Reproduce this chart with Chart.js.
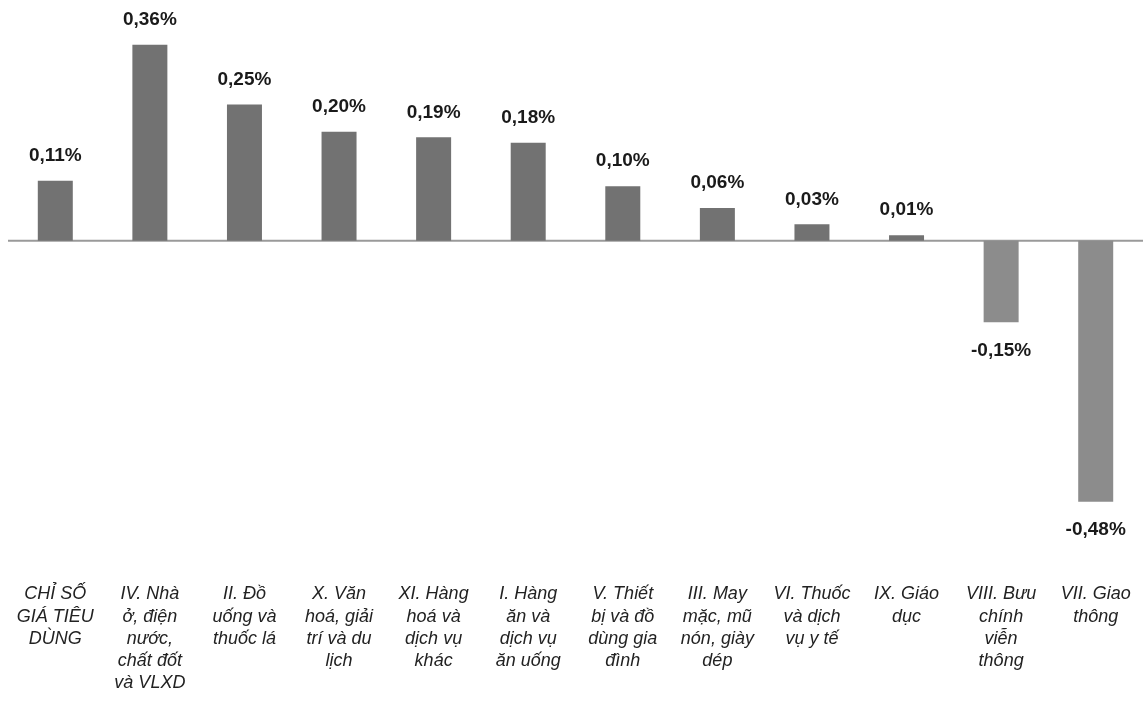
<!DOCTYPE html>
<html>
<head>
<meta charset="utf-8">
<script src="https://cdn.jsdelivr.net/npm/chart.js@4.4.1/dist/chart.umd.min.js"></script>
<style>
  html, body { margin: 0; padding: 0; background: #fff; }
  #wrap { width: 1143px; height: 702px; position: relative; }
</style>
</head>
<body>
<div id="wrap"><canvas id="myChart"></canvas></div>
<script>
// categories (multi-line labels as drawn under the axis)
const categories = [
  ["CHỈ SỐ", "GIÁ TIÊU", "DÙNG"],
  ["IV. Nhà", "ở, điện", "nước,", "chất đốt", "và VLXD"],
  ["II. Đồ", "uống và", "thuốc lá"],
  ["X. Văn", "hoá, giải", "trí và du", "lịch"],
  ["XI. Hàng", "hoá và", "dịch vụ", "khác"],
  ["I. Hàng", "ăn và", "dịch vụ", "ăn uống"],
  ["V. Thiết", "bị và đồ", "dùng gia", "đình"],
  ["III. May", "mặc, mũ", "nón, giày", "dép"],
  ["VI. Thuốc", "và dịch", "vụ y tế"],
  ["IX. Giáo", "dục"],
  ["VIII. Bưu", "chính", "viễn", "thông"],
  ["VII. Giao", "thông"]
]
// change vs previous month, %
const values = [0.11, 0.36, 0.25, 0.20, 0.19, 0.18, 0.10, 0.06, 0.03, 0.01, -0.15, -0.48]

const yMin = -0.615
const yMax = 0.40

function fmt(v){
  return v.toFixed(2).replace('.', ',') + '%'
}

// zero line under the bars
const zeroLine = {
  id: 'zeroLine',
  beforeDatasetsDraw(chart){
    const ctx = chart.ctx
    const area = chart.chartArea
    const y = chart.scales.y.getPixelForValue(0)
    ctx.save()
    ctx.strokeStyle = '#9a9a9a'
    ctx.lineWidth = 2
    ctx.beginPath()
    ctx.moveTo(area.left, y)
    ctx.lineTo(area.right, y)
    ctx.stroke()
    ctx.restore()
  }
}

// value labels above / below bars
const valueLabels = {
  id: 'valueLabels',
  afterDatasetsDraw(chart){
    const ctx = chart.ctx
    const meta = chart.getDatasetMeta(0)
    ctx.save()
    ctx.font = 'bold 19px "Liberation Sans", Arial, sans-serif'
    ctx.fillStyle = '#1a1a1a'
    ctx.textAlign = 'center'
    ctx.textBaseline = 'middle'
    meta.data.forEach((bar, i) => {
      const v = values[i]
      const y = v >= 0 ? bar.y - 25 : bar.y + 28
      ctx.fillText(fmt(v), bar.x, y)
    })
    ctx.restore()
  }
}

const barColors = values.map(v => v >= 0 ? '#727272' : '#8c8c8c')

new Chart(document.getElementById('myChart'), {
  type: 'bar',
  data: {
    labels: categories,
    datasets: [{
      data: values,
      backgroundColor: barColors,
      borderWidth: 0,
      barPercentage: 0.37,
      categoryPercentage: 1.0
    }]
  },
  options: {
    responsive: true,
    maintainAspectRatio: false,
    animation: false,
    layout: { padding: { left: 8, right: 0, top: 23, bottom: 0 } },
    plugins: {
      legend: { display: false },
      tooltip: { enabled: false }
    },
    scales: {
      x: {
        grid: { display: false, drawTicks: false },
        border: { display: false },
        ticks: {
          autoSkip: false,
          maxRotation: 0,
          minRotation: 0,
          padding: 8,
          color: '#222',
          font: { family: '"Liberation Sans", Arial, sans-serif', size: 18, style: 'italic', lineHeight: 1.23 }
        }
      },
      y: {
        display: false,
        min: yMin,
        max: yMax
      }
    }
  },
  plugins: [zeroLine, valueLabels]
})
</script>
</body>
</html>
